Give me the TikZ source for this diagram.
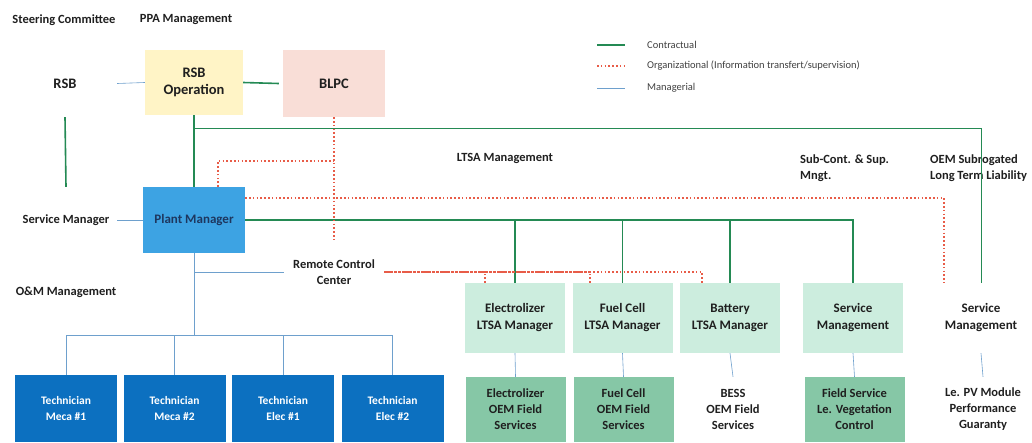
\documentclass[tikz,border=0pt]{standalone}
\usepackage{fontspec}
\setmainfont{Carlito}
\usepackage{xcolor}
\usetikzlibrary{positioning}
\definecolor{contractgreen}{RGB}{36,138,84}
\definecolor{orgred}{RGB}{232,92,72}
\definecolor{managblue}{RGB}{110,160,205}
\definecolor{rsbyellow}{RGB}{255,244,198}
\definecolor{blpcpink}{RGB}{249,222,215}
\definecolor{pmblue}{RGB}{61,163,227}
\definecolor{pmtext}{RGB}{30,55,95}
\definecolor{techblue}{RGB}{12,112,192}
\definecolor{ltsamint}{RGB}{204,237,222}
\definecolor{oemgreen}{RGB}{134,199,166}
\tikzset{
  unit/.style={align=center, inner sep=0pt, text=black!88,
    font=\bfseries\fontsize{12.5}{16}\selectfont},
  topunit/.style={unit, font=\bfseries\fontsize{14.5}{17}\selectfont},
  label/.style={unit, anchor=west, align=left},
  techbox/.style={unit, fill=techblue, text=white, minimum width=102pt,
    minimum height=67pt, font=\bfseries\fontsize{11.5}{16}\selectfont},
  ltsabox/.style={unit, fill=ltsamint, minimum width=100pt, minimum height=70pt,
    font=\bfseries\fontsize{13}{17}\selectfont},
  oembox/.style={unit, minimum width=100pt, minimum height=65pt},
  contract/.style={draw=contractgreen, line width=1.6pt},
  contractthin/.style={draw=contractgreen, line width=0.8pt},
  org/.style={draw=orgred, line width=1.1pt, dash pattern=on 1.6pt off 2.2pt},
  manage/.style={draw=managblue, line width=0.6pt},
  legendtext/.style={anchor=west, inner sep=0pt, text=black!75,
    font=\fontsize{10.5}{12}\selectfont}
}
\begin{document}
\begin{tikzpicture}[x=1pt, y=-1pt]
\useasboundingbox (0,0) rectangle (1032,442);

\node[unit] (steering) at (64,20) {Steering Committee};
\node[unit] (ppa) at (186,20) {PPA Management};

\node[topunit, minimum width=104pt, minimum height=67pt] (rsb) at (65,83.5) {RSB};
\node[topunit, fill=rsbyellow, minimum width=98pt, minimum height=65pt] (rsbop) at (194,82.5) {RSB\\Operation};
\node[topunit, fill=blpcpink, minimum width=102pt, minimum height=67pt] (blpc) at (334,83.5) {BLPC};

\node[unit, minimum width=102pt, minimum height=66pt] (svcmgr) at (66,220) {Service Manager};
\node[unit, fill=pmblue, text=pmtext, minimum width=102pt, minimum height=66pt,
  font=\bfseries\fontsize{13}{16}\selectfont] (pm) at (194,220) {Plant Manager};
\node[unit] (om) at (66,292) {O\&M Management};
\node[unit, minimum width=100pt, minimum height=64pt] (rcc) at (334,272) {Remote Control\\Center};

\node[unit] (ltsa) at (505,158) {LTSA Management};
\node[label] (subcont) at (800,168) {Sub-Cont. \& Sup.\\Mngt.};
\node[label] (oemsub) at (930,168) {OEM Subrogated\\Long Term Liability};

\node[techbox] (tech1) at (66,408.5) {Technician\\Meca \#1};
\node[techbox] (tech2) at (174.5,408.5) {Technician\\Meca \#2};
\node[techbox] (tech3) at (283,408.5) {Technician\\Elec \#1};
\node[techbox] (tech4) at (392.5,408.5) {Technician\\Elec \#2};

\node[ltsabox] (elec) at (515,318) {Electrolizer\\LTSA Manager};
\node[ltsabox] (fuel) at (622.5,318) {Fuel Cell\\LTSA Manager};
\node[ltsabox] (batt) at (730,318) {Battery\\LTSA Manager};
\node[ltsabox] (svc) at (853,318) {Service\\Management};
\node[ltsabox, fill=none, minimum width=99pt] (svcpv) at (981,318) {Service\\Management};

\node[oembox, fill=oemgreen] (elecoem) at (515.5,409.5) {Electrolizer\\OEM Field\\Services};
\node[oembox, fill=oemgreen] (fueloem) at (623.5,409.5) {Fuel Cell\\OEM Field\\Services};
\node[oembox] (bess) at (733,409.5) {BESS\\OEM Field\\Services};
\node[oembox, fill=oemgreen] (field) at (854.5,409.5) {Field Service\\Le. Vegetation\\Control};
\node[oembox] (pv) at (983,409.5) {Le. PV Module\\Performance\\Guaranty};

\coordinate (lgA1) at (597,45);  \coordinate (lgA2) at (625,45);
\coordinate (lgB1) at (597,66);  \coordinate (lgB2) at (625,66);
\coordinate (lgC1) at (597,88);  \coordinate (lgC2) at (625,88);
\node[legendtext] (lgA) at (647,45) {Contractual};
\node[legendtext] (lgB) at (647,66) {Organizational (Information transfert/supervision)};
\node[legendtext] (lgC) at (647,88) {Managerial};
\draw[contract] (lgA1) -- (lgA2);
\draw[org] (lgB1) -- (lgB2);
\draw[manage] (lgC1) -- (lgC2);

\coordinate (split) at (194,128);
\coordinate (orgjoin) at (334,161);
\coordinate (techbus) at (194,335);

\draw[contract] (rsbop.east) -- ([xshift=-4pt]blpc.west);
\draw[contract] (rsb.south) -- (svcmgr.north);
\draw[contract] (rsbop.south) -- (pm.north);
\draw[contractthin] (split) -| (svcpv.north);
\draw[contract] (pm.east) -| (elec.north);
\draw[contract] (pm.east) -| (fuel.north);
\draw[contract] (pm.east) -| (batt.north);
\draw[contract] (pm.east) -| (svc.north);

\draw[org] (blpc.south) -- (rcc.north);
\draw[org] ([xshift=24pt]pm.north) |- (orgjoin);
\draw[org] ([yshift=22pt]pm.east) -| ([xshift=-37pt]svcpv.north);
\draw[org] (rcc.east) -| ([xshift=-28pt]batt.north);
\draw[org] ([xshift=-30pt]elec.north) |- (rcc.east);
\draw[org] ([xshift=-32.5pt]fuel.north) |- (rcc.east);

\draw[manage] (rsb.east) -- (rsbop.west);
\draw[manage] (svcmgr.east) -- (pm.west);
\draw[manage] (rcc.west) -| (pm.south);
\draw[manage] (pm.south) -- (techbus);
\foreach \t in {tech1,tech2,tech3,tech4}
  \draw[manage] (techbus) -| (\t.north);
\foreach \a/\b in {elec/elecoem, fuel/fueloem, batt/bess, svc/field, svcpv/pv}
  \draw[manage] (\a.south) -- (\b.north);
\end{tikzpicture}
\end{document}
